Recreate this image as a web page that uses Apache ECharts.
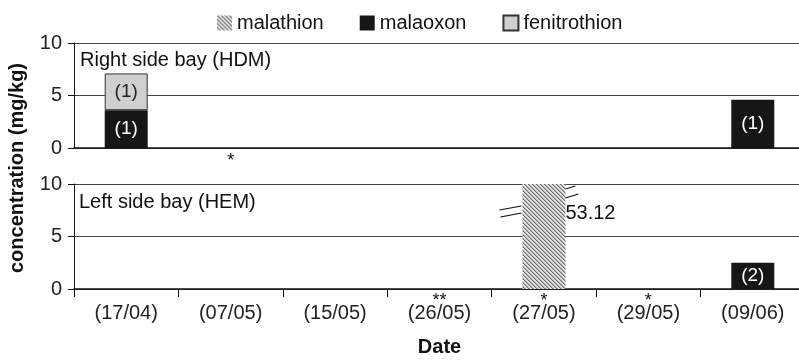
<!DOCTYPE html>
<html>
<head>
<meta charset="utf-8">
<script src="https://cdn.jsdelivr.net/npm/echarts@6/dist/echarts.min.js"></script>
<style>
  html, body { margin: 0; padding: 0; background: #fff; }
  #chart { width: 799px; height: 361px; }
</style>
</head>
<body>
<div id="chart"></div>
<script>
// Sampling dates
const dates = ['(17/04)', '(07/05)', '(15/05)', '(26/05)', '(27/05)', '(29/05)', '(09/06)'];

// Right side bay (HDM) concentrations, mg/kg
const hdmMalathion    = [null, null, null, null, null, null, null];
const hdmMalaoxon     = [3.6, null, null, null, null, null, 4.6];
const hdmFenitrothion = [3.5, null, null, null, null, null, null];

// Left side bay (HEM) concentrations, mg/kg
const hemMalathion    = [null, null, null, null, 53.12, null, null];
const hemMalaoxon     = [null, null, null, null, null, null, 2.5];
const hemFenitrothion = [null, null, null, null, null, null, null];

// Number of positive samples printed inside the bars
const hdmMalaoxonN     = ['(1)', '', '', '', '', '', '(1)'];
const hdmFenitrothionN = ['(1)', '', '', '', '', '', ''];
const hemMalaoxonN     = ['', '', '', '', '', '', '(2)'];

// Asterisk notes attached to each date
const hdmNotes = ['', '*', '', '', '', '', ''];
const hemNotes = ['', '', '', '**', '*', '*', ''];

// Y axis range shared by both panels
const yMin = 0, yMax = 10, yStep = 5;

const FONT = '"Liberation Sans", Arial, Helvetica, sans-serif';

// Diagonal hatch used for malathion
function hatch() {
  const c = document.createElement('canvas');
  c.width = 4; c.height = 4;
  const g = c.getContext('2d');
  g.fillStyle = '#e4e4e4';
  g.fillRect(0, 0, 4, 4);
  for (let i = 0; i < 4; i++) {
    g.fillStyle = '#707070';
    g.fillRect(i, i, 1, 1);
    g.fillStyle = '#a8a8a8';
    g.fillRect((i + 1) % 4, i, 1, 1);
  }
  return { image: c, repeat: 'repeat' };
}
const hatchPattern = hatch();

const styles = {
  malathion:    { color: hatchPattern },
  malaoxon:     { color: '#161616' },
  fenitrothion: { color: '#cfcfcf', borderColor: '#333', borderWidth: 1 }
};

function yAxis(gridIndex) {
  return {
    type: 'value', gridIndex, min: yMin, max: yMax, interval: yStep,
    axisLine: { show: true, lineStyle: { color: '#111', width: 1 } },
    axisTick: { show: true, length: 6, lineStyle: { color: '#111' } },
    axisLabel: { fontFamily: FONT, fontSize: 20, color: '#222', margin: 12 },
    splitLine: { show: true, lineStyle: { color: '#444', width: 1 } }
  };
}

function barSeries(name, gridIndex, data, labels, labelColor) {
  return {
    type: 'bar', name, xAxisIndex: gridIndex, yAxisIndex: gridIndex,
    stack: 'panel' + gridIndex, barWidth: 43, clip: true,
    itemStyle: styles[name],
    data,
    label: labels ? {
      show: true, position: 'inside', fontFamily: FONT, fontSize: 19, color: labelColor,
      formatter: p => labels[p.dataIndex]
    } : { show: false }
  };
}

const chart = echarts.init(document.getElementById('chart'), null, { renderer: 'canvas' });

const malathionHem = barSeries('malathion', 1, hemMalathion, null);
malathionHem.label = {
  show: true, position: 'right', distance: 0, offset: [0, -23],
  fontFamily: FONT, fontSize: 20, color: '#111',
  formatter: p => p.value ? p.value.toFixed(2) : ''
};

const yName = {
  type: 'text', x: 17, y: 168, rotation: Math.PI / 2,
  style: { text: 'concentration (mg/kg)', font: 'bold 20px ' + FONT, fill: '#111',
           align: 'center', verticalAlign: 'middle' }
};

chart.setOption({
  animation: false,
  backgroundColor: '#fff',
  legend: {
    left: 212, top: 8, itemWidth: 15, itemHeight: 15, itemGap: 36, icon: 'rect',
    data: ['malathion', 'malaoxon', 'fenitrothion'],
    textStyle: { fontFamily: FONT, fontSize: 20, color: '#111' }
  },
  title: [
    { text: 'Right side bay (HDM)', left: 75, top: 45,
      textStyle: { fontFamily: FONT, fontSize: 20, fontWeight: 'normal', color: '#111' } },
    { text: 'Left side bay (HEM)', left: 74, top: 187,
      textStyle: { fontFamily: FONT, fontSize: 20, fontWeight: 'normal', color: '#111' } }
  ],
  grid: [
    { left: 74, right: -6, top: 43, height: 105, outerBoundsMode: 'none' },
    { left: 74, right: -6, top: 184, height: 105, outerBoundsMode: 'none' }
  ],
  xAxis: [
    {
      type: 'category', gridIndex: 0, data: dates,
      axisLine: { lineStyle: { color: '#111', width: 1.5 } },
      axisTick: { show: false },
      axisLabel: { interval: 0, margin: 6, fontFamily: FONT, fontSize: 18, color: '#111', lineHeight: 14,
        formatter: (v, i) => hdmNotes[i] }
    },
    {
      type: 'category', gridIndex: 1, data: dates,
      name: 'Date', nameLocation: 'middle', nameGap: 48,
      nameTextStyle: { fontFamily: FONT, fontSize: 20, fontWeight: 'bold', color: '#111' },
      axisLine: { lineStyle: { color: '#111', width: 1.5 } },
      axisTick: { show: true, length: 8, interval: 0, lineStyle: { color: '#111' } },
      axisLabel: {
        interval: 0, margin: 10,
        formatter: (v, i) => '{s|' + (hemNotes[i] || ' ') + '}\n{d|' + v + '}',
        rich: {
          s: { fontFamily: FONT, fontSize: 18, color: '#111', lineHeight: 4 },
          d: { fontFamily: FONT, fontSize: 20, color: '#222', lineHeight: 20 }
        }
      }
    }
  ],
  yAxis: [yAxis(0), yAxis(1)],
  series: [
    barSeries('malathion', 0, hdmMalathion, null),
    barSeries('malaoxon', 0, hdmMalaoxon, hdmMalaoxonN, '#fff'),
    barSeries('fenitrothion', 0, hdmFenitrothion, hdmFenitrothionN, '#222'),
    malathionHem,
    barSeries('malaoxon', 1, hemMalaoxon, hemMalaoxonN, '#fff'),
    barSeries('fenitrothion', 1, hemFenitrothion, null)
  ],
  graphic: [yName]
});

// Axis-break strokes beside the clipped malathion bar
(function drawBreak() {
  const idx = hemMalathion.findIndex(v => v !== null && v > yMax);
  if (idx < 0) return;
  const top = chart.convertToPixel({ gridIndex: 1 }, [idx, yMax]);
  const half = 43 / 2;
  const l = top[0] - half, r = top[0] + half, y = top[1];
  const seg = (x1, y1, x2, y2) => ({
    type: 'line', shape: { x1, y1, x2, y2 },
    style: { stroke: '#111', lineWidth: 1.2 }, z: 100
  });
  chart.setOption({
    graphic: [
      yName,
      seg(l - 23, y + 26, l - 1, y + 22),
      seg(l - 22, y + 33, l - 1, y + 29),
      seg(r, y + 5, r + 10, y + 2),
      seg(r, y + 14, r + 13, y + 10)
    ]
  });
})();
</script>
</body>
</html>
